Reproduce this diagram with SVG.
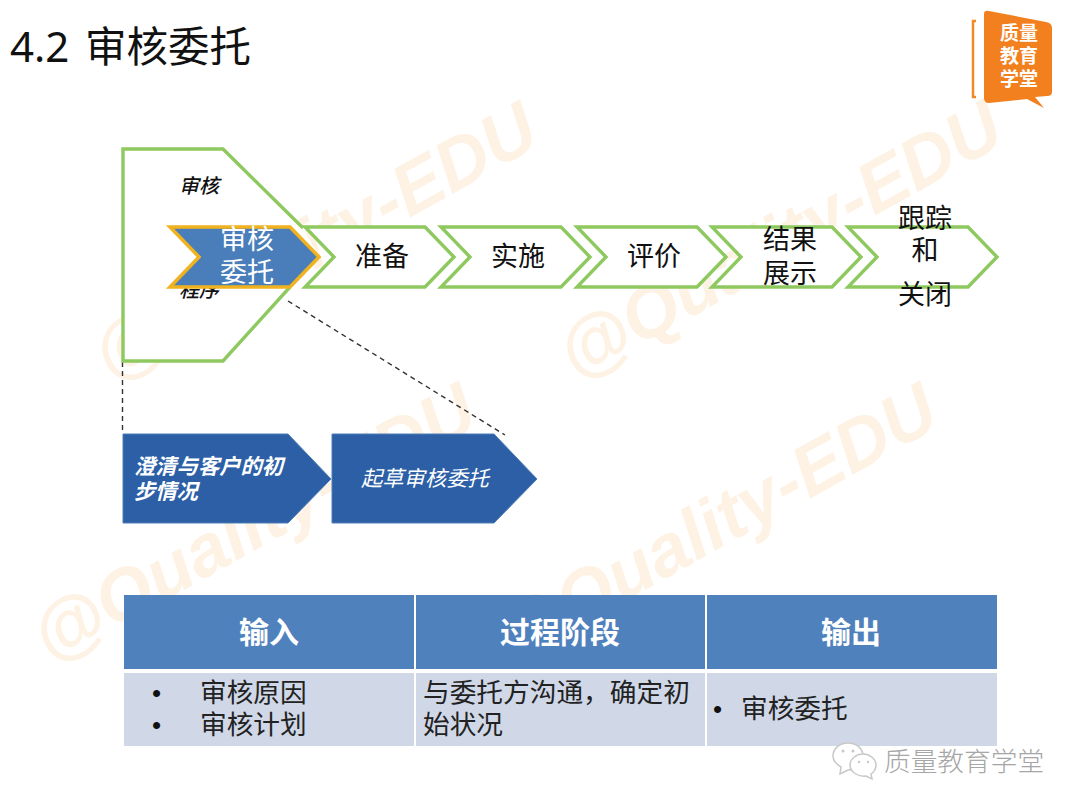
<svg xmlns="http://www.w3.org/2000/svg" width="1080" height="810" viewBox="0 0 1080 810">
<style>
text{font-family:"Noto Sans CJK SC","Noto Sans",sans-serif}
.wm{font-family:"Liberation Sans",sans-serif;font-weight:700;font-style:italic;font-size:72.500px;fill:#fdf2e3}
.step{fill:#fff;stroke:#8ec95f;stroke-width:3.400;stroke-linejoin:miter}
.blue{fill:#2c5fa6;stroke:#4d7fb8;stroke-width:1}
.t{font-size:27px;fill:#111;text-anchor:middle}
.w{fill:#fff}
.wi{font-size:21.300px;font-style:italic;fill:#fff}
.hd{fill:#4f81bd}.bd{fill:#d0d8e8}
.th{font-size:30px;font-weight:700;fill:#fff;text-anchor:middle}
.td{font-size:26.700px;fill:#222}
.bu{font-family:"Liberation Sans",sans-serif;font-size:26px;fill:#111}
.dash{fill:none;stroke:#333;stroke-width:1.400;stroke-dasharray:5 4}
</style>
<rect width="1080" height="810" fill="#fff"/>
<g id="watermarks">
<text class="wm" transform="translate(111,383) rotate(-29)">@Quality-EDU</text>
<text class="wm" transform="translate(576,381) rotate(-29)">@Quality-EDU</text>
<text class="wm" transform="translate(50,664) rotate(-29)">@Quality-EDU</text>
<text class="wm" transform="translate(511,664) rotate(-29)">@Quality-EDU</text>
</g>
<text x="10" y="62" font-size="42" fill="#111" style="font-family:'Noto Sans','Noto Sans CJK SC',sans-serif">4.2<tspan x="85" font-size="41.500">审核委托</tspan></text>
<g id="logo">
<path d="M976 21H973V97H976" stroke="#f08a24" stroke-width="2.500" fill="none"/>
<path d="M984 14Q984 10 989 11L1046 22Q1052 23 1052 28V92Q1052 96 1047 96L1035 97L1044 108L1027 99L989 103Q984 103 984 98Z" fill="#f2801f"/>
<g font-size="19" font-weight="700" fill="#fff" text-anchor="middle">
<text x="1019" y="40">质量</text><text x="1019" y="63">教育</text><text x="1019" y="86">学堂</text>
</g>
</g>
<g id="connectors">
<path class="dash" d="M122.500 362V434"/>
<path class="dash" d="M288 301L505 435"/>
</g>
<g id="node-program">
<path d="M123 149H223L303 228L319 257L290 287L223 361H123Z" fill="#fff"/>
<path class="step" style="fill:none" d="M303 228L223 149H123V361H223L290 287"/>
<text x="179" y="193" font-size="20" font-style="italic" font-weight="500" fill="#111">审核</text>
<text x="179" y="297" font-size="20" font-style="italic" font-weight="500" fill="#111">程序</text>
</g>
<g id="node-prepare"><path class="step" d="M305 227H425L454 257L425 287H305L334 257Z"/><text class="t" x="382" y="266">准备</text></g>
<g id="node-implement"><path class="step" d="M441 227H561L590 257L561 287H441L470 257Z"/><text class="t" x="518" y="266">实施</text></g>
<g id="node-evaluate"><path class="step" d="M577 227H697L726 257L697 287H577L606 257Z"/><text class="t" x="654" y="266">评价</text></g>
<g id="node-present"><path class="step" d="M712 227H832L861 257L832 287H712L741 257Z"/><text class="t" x="790" y="249">结果</text><text class="t" x="790" y="283">展示</text></g>
<g id="node-close"><path class="step" d="M848 227H968L997 257L968 287H848L877 257Z"/><text class="t" x="925" y="228">跟踪</text><text class="t" x="925" y="260">和</text><text class="t" x="925" y="304">关闭</text></g>
<g id="node-commission">
<path d="M170 227H290L319 257L290 287H170L199 257Z" fill="#4a7ebb" stroke="#f0b31f" stroke-width="3.500"/>
<text class="t w" x="247" y="249">审核</text><text class="t w" x="247" y="282">委托</text>
</g>
<g id="node-clarify">
<path class="blue" d="M123 434H288L331 479L288 523H123Z"/>
<text class="wi" font-weight="700" x="134" y="474">澄清与客户的初</text><text class="wi" font-weight="700" x="134" y="499">步情况</text>
</g>
<g id="node-draft">
<path class="blue" d="M332 434H494L537 479L494 523H332Z"/>
<text class="wi" x="361" y="486">起草审核委托</text>
</g>
<g id="table">
<rect class="hd" x="124" y="595" width="290" height="74"/>
<rect class="hd" x="416" y="595" width="289" height="74"/>
<rect class="hd" x="707" y="595" width="290" height="74"/>
<rect class="bd" x="124" y="673" width="290" height="73"/>
<rect class="bd" x="416" y="673" width="289" height="73"/>
<rect class="bd" x="707" y="673" width="290" height="73"/>
<text class="th" x="269" y="643">输入</text>
<text class="th" x="560" y="643">过程阶段</text>
<text class="th" x="851" y="643">输出</text>
<text class="bu" x="152" y="702">•</text><text class="td" x="200" y="702">审核原因</text>
<text class="bu" x="152" y="734">•</text><text class="td" x="200" y="734">审核计划</text>
<text class="td" x="423" y="702">与委托方沟通，确定初</text>
<text class="td" x="423" y="734">始状况</text>
<text class="bu" x="713" y="718">•</text><text class="td" x="741" y="718">审核委托</text>
</g>
<g id="wechat-mark">
<path d="M848 743C857 743 863 749 863 756C863 763 857 770 848 770L840 774L841 767C836 764 833 760 833 756C833 749 839 743 848 743Z" fill="#fff" stroke="#c8c8c8" stroke-width="1.500"/>
<path d="M863 754C870 754 876 759 876 765C876 769 874 772 871 774L872 779L866 776C858 777 850 772 850 765C850 759 856 754 863 754Z" fill="#fff" stroke="#c8c8c8" stroke-width="1.500"/>
<circle cx="843" cy="751" r="1.500" fill="#c8c8c8"/><circle cx="853" cy="751" r="1.500" fill="#c8c8c8"/>
<circle cx="859" cy="762" r="1.200" fill="#c8c8c8"/><circle cx="868" cy="762" r="1.200" fill="#c8c8c8"/>
<text x="884" y="771" font-size="26.700" font-weight="300" fill="#a6a6a6">质量教育学堂</text>
</g>
</svg>
